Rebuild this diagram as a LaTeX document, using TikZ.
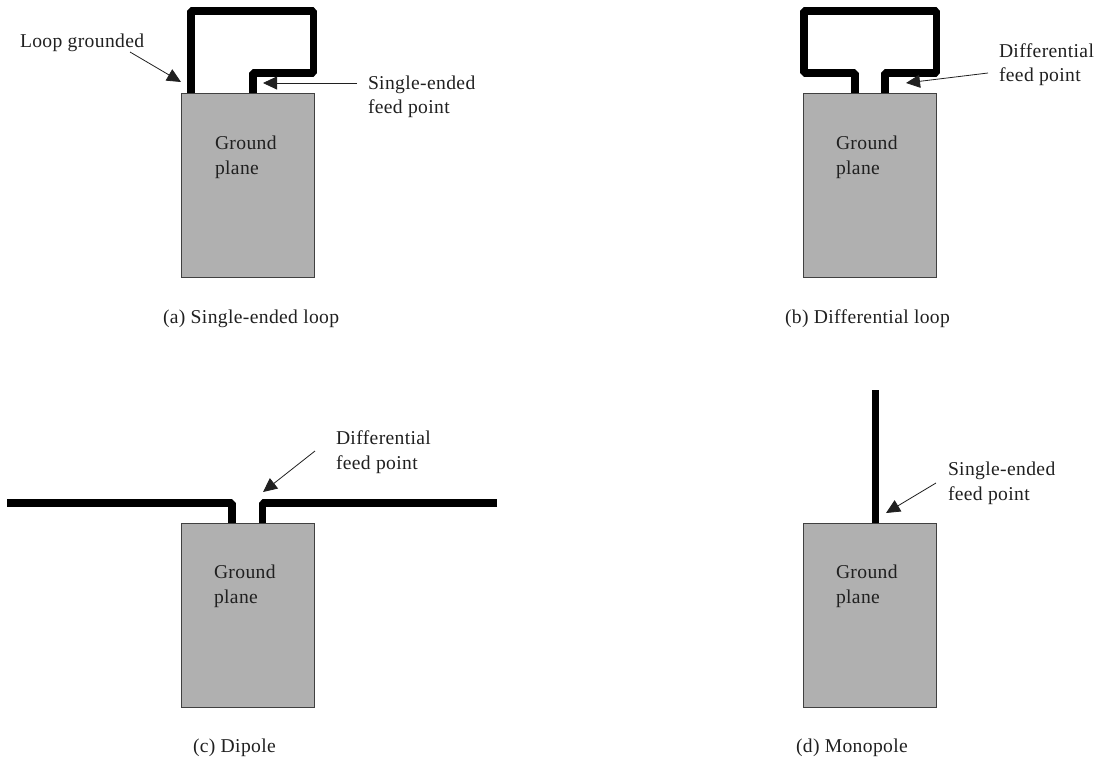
\documentclass[tikz,border=0pt]{standalone}
\usepackage{fontspec}
\setmainfont[LetterSpace=1.8]{Liberation Serif}
\usetikzlibrary{arrows.meta}
\definecolor{planegray}{HTML}{B0B0B0}
\definecolor{planeedge}{HTML}{404040}
\definecolor{inkgray}{HTML}{202020}
\tikzset{
  plane/.style={draw=planeedge,line width=1pt,fill=planegray,minimum width=133pt,minimum height=184pt,inner sep=0pt,outer sep=0pt,anchor=north west},
  wire/.style={draw=black,line width=7.5pt,line join=bevel,line cap=butt},
  callout/.style={draw=inkgray,line width=0.8pt,-{Triangle[length=14pt,width=13pt]}},
  lbl/.style={font=\fontsize{19.6}{24}\selectfont,text=inkgray,anchor=base west,inner sep=0pt,outer sep=0pt},
}
\begin{document}
\begin{tikzpicture}[x=1pt,y=-1pt]
\useasboundingbox (0,0) rectangle (1101,758);
% ground planes
\node[plane] (pa) at (181.5,93.5) {};
\node[plane] (pb) at (803.5,93.5) {};
\node[plane] (pc) at (181.5,523.5) {};
\node[plane] (pd) at (803.5,523.5) {};
% (a) single-ended loop
\coordinate (a1) at (191,93);
\coordinate (a2) at (191,11);
\coordinate (a3) at (313.5,11);
\coordinate (a4) at (313.5,73);
\coordinate (a5) at (253,73);
\coordinate (a6) at (253,93);
\draw[wire] (a1) -- (a2) -- (a3) -- (a4) -- (a5) -- (a6);
% (b) differential loop
\coordinate (b1) at (855,93);
\coordinate (b2) at (855,73);
\coordinate (b3) at (804,73);
\coordinate (b4) at (804,11);
\coordinate (b5) at (936.5,11);
\coordinate (b6) at (936.5,73);
\coordinate (b7) at (885,73);
\coordinate (b8) at (885,93);
\draw[wire] (b1) -- (b2) -- (b3) -- (b4) -- (b5) -- (b6) -- (b7) -- (b8);
% (c) dipole
\coordinate (c1) at (7,503);
\coordinate (c2) at (232,503);
\coordinate (c3) at (232,523);
\coordinate (c4) at (497,503);
\coordinate (c5) at (262.5,503);
\coordinate (c6) at (262.5,523);
\draw[wire] (c1) -- (c2) -- (c3);
\draw[wire] (c4) -- (c5) -- (c6);
% (d) monopole
\coordinate (d1) at (875.5,390);
\coordinate (d2) at (875.5,523);
\draw[wire] (d1) -- (d2);
% texts
\node[lbl] (tg) at (20,47) {Loop grounded};
\node[lbl] (tse1) at (368,89) {Single-ended};
\node[lbl] (tse2) at (368,113) {feed point};
\node[lbl] (tga1) at (215,149) {Ground};
\node[lbl] (tga2) at (215,174) {plane};
\node[lbl] (capa) at (163,323.5) {(a) Single-ended loop};
\node[lbl] (td1) at (999,57) {Differential};
\node[lbl] (td2) at (999,81) {feed point};
\node[lbl] (tgb1) at (836,149) {Ground};
\node[lbl] (tgb2) at (836,174) {plane};
\node[lbl] (capb) at (785,323.5) {(b) Differential loop};
\node[lbl] (te1) at (336,444) {Differential};
\node[lbl] (te2) at (336,469) {feed point};
\node[lbl] (tgc1) at (214,578) {Ground};
\node[lbl] (tgc2) at (214,603) {plane};
\node[lbl] (capc) at (193,752) {(c) Dipole};
\node[lbl] (tf1) at (948,475) {Single-ended};
\node[lbl] (tf2) at (948,500) {feed point};
\node[lbl] (tgd1) at (836,578) {Ground};
\node[lbl] (tgd2) at (836,603) {plane};
\node[lbl] (capd) at (796,752) {(d) Monopole};
% callouts
\coordinate (ag) at (181,82);
\coordinate (ag0) at (130,52);
\draw[callout] (ag0) -- (ag);
\coordinate (af) at (263,83);
\coordinate (af0) at (357,83);
\draw[callout] (af0) -- (af);
\coordinate (bf) at (906,83);
\coordinate (bf0) at (988,73);
\draw[callout] (bf0) -- (bf);
\coordinate (cf) at (263,492);
\coordinate (cf0) at (315,451);
\draw[callout] (cf0) -- (cf);
\coordinate (df) at (886,513);
\coordinate (df0) at (936,483);
\draw[callout] (df0) -- (df);
\end{tikzpicture}
\end{document}
